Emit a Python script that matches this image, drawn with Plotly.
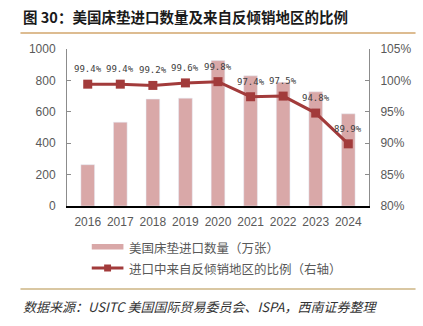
import plotly.graph_objects as go

years = ["2016", "2017", "2018", "2019", "2020", "2021", "2022", "2023", "2024"]
imports = [263, 534, 681, 687, 926, 829, 788, 727, 587]
ratio = [99.4, 99.4, 99.2, 99.6, 99.8, 97.4, 97.5, 94.8, 89.9]
ratio_labels = [f"{v:.1f}%" for v in ratio]

bar_name = "美国床垫进口数量（万张）"
line_name = "进口中来自反倾销地区的比例（右轴）"
title_text = "图 30：美国床垫进口数量及来自反倾销地区的比例"
source_text = "数据来源：USITC 美国国际贸易委员会、ISPA，西南证券整理"

BAR_C = "#d9a8a8"
LINE_C = "#a23b3b"
GRAY = "#595959"
CJK = "Noto Sans CJK SC"

fig = go.Figure()
fig.add_trace(go.Bar(x=years, y=imports, name=bar_name, marker_color=BAR_C,
                     width=0.42, yaxis="y", showlegend=False))
fig.add_trace(go.Scatter(x=years, y=ratio, name=line_name, yaxis="y2",
                         mode="lines+markers",
                         line=dict(color=LINE_C, width=3),
                         marker=dict(symbol="square", size=9, color=LINE_C),
                         showlegend=False, cliponaxis=False))

L, R, T, B = 67, 51, 49, 120
W, H = 423, 326
pw, ph = W - L - R, H - T - B

def px(x):
    return (x - L) / pw

def py(y):
    return (H - B - y) / ph

shapes = [
    dict(type="line", xref="paper", yref="paper", x0=px(20), x1=px(419), y0=py(33), y1=py(33),
         line=dict(color="#d2a66c", width=1.5)),
    dict(type="line", xref="paper", yref="paper", x0=px(20), x1=px(419), y0=py(289), y1=py(289),
         line=dict(color="#cdb583", width=1.5)),
    dict(type="rect", xref="paper", yref="paper", x0=px(92), x1=px(124), y0=py(244), y1=py(249.5),
         fillcolor=BAR_C, line=dict(width=0)),
    dict(type="line", xref="paper", yref="paper", x0=px(92), x1=px(124), y0=py(268), y1=py(268),
         line=dict(color=LINE_C, width=3)),
    dict(type="rect", xref="paper", yref="paper", x0=px(104.5), x1=px(111.5), y0=py(264.5), y1=py(271.5),
         fillcolor=LINE_C, line=dict(width=0)),
]

annotations = [
    dict(text=f"<b>{title_text}</b>", xref="paper", yref="paper", x=px(21), y=py(16),
         xanchor="left", yanchor="middle", showarrow=False,
         font=dict(family=CJK, size=14.5, color="#1a1a1a")),
    dict(text=bar_name, xref="paper", yref="paper", x=px(128), y=py(247),
         xanchor="left", yanchor="middle", showarrow=False,
         font=dict(family=CJK, size=12.5, color=GRAY)),
    dict(text=line_name, xref="paper", yref="paper", x=px(128), y=py(268),
         xanchor="left", yanchor="middle", showarrow=False,
         font=dict(family=CJK, size=12.5, color=GRAY)),
    dict(text=f"<i>{source_text}</i>", xref="paper", yref="paper", x=px(21), y=py(306),
         xanchor="left", yanchor="middle", showarrow=False,
         font=dict(family=CJK, size=13, color="#333333")),
]

for i, (v, lab) in enumerate(zip(ratio, ratio_labels)):
    annotations.append(dict(text=lab, x=i, y=v, xref="x", yref="y2", yshift=15,
                            xanchor="center", yanchor="middle", showarrow=False,
                            font=dict(family="DejaVu Sans Mono", size=9, color="#404040")))

fig.update_layout(
    width=W, height=H,
    margin=dict(l=L, r=R, t=T, b=B),
    paper_bgcolor="white", plot_bgcolor="white",
    bargap=0.58,
    xaxis=dict(type="category", showline=True, linecolor="#000000", linewidth=1.5,
               ticks="outside", ticklen=4, tickcolor="rgba(0,0,0,0)", showgrid=False,
               tickfont=dict(family="Liberation Sans", size=12, color=GRAY)),
    yaxis=dict(range=[0, 1000], dtick=200, showline=True, linecolor="#8c8c8c", linewidth=1,
               ticks="inside", ticklen=4, tickcolor="#8c8c8c", showgrid=False, zeroline=False,
               ticklabelstandoff=8,
               tickfont=dict(family="Liberation Sans", size=12, color=GRAY)),
    yaxis2=dict(range=[80, 105], dtick=5, ticksuffix="%", overlaying="y", side="right",
                showline=True, linecolor="#8c8c8c", linewidth=1,
                ticks="inside", ticklen=4, tickcolor="#8c8c8c", showgrid=False, zeroline=False,
                ticklabelstandoff=8,
                tickfont=dict(family="Liberation Sans", size=12, color=GRAY)),
    shapes=shapes,
    annotations=annotations,
    showlegend=False,
)

fig.write_html("out.html")
